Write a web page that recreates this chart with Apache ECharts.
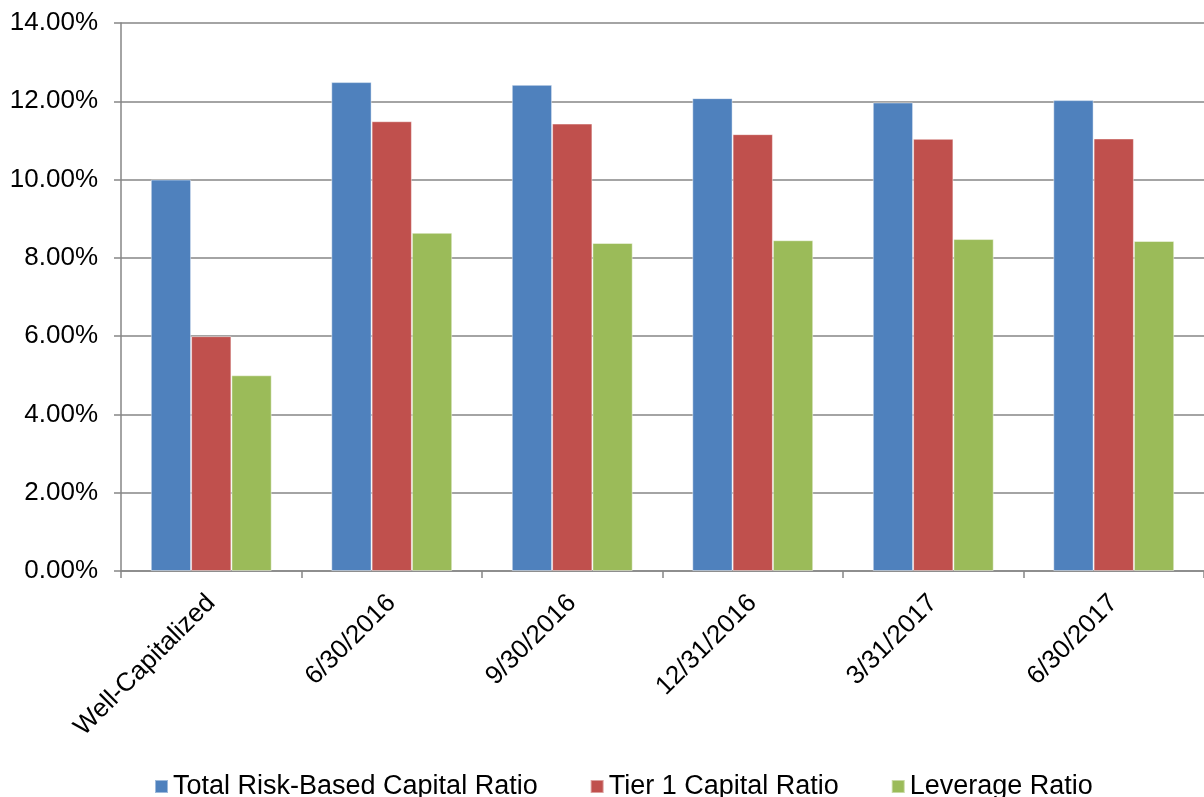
<!DOCTYPE html>
<html>
<head>
<meta charset="utf-8">
<script src="https://cdn.jsdelivr.net/npm/echarts@6/dist/echarts.min.js"></script>
<style>
  html, body { margin: 0; padding: 0; background: #fff; }
  #chart { width: 1204px; height: 797px; }
</style>
</head>
<body>
<div id="chart"></div>
<script>
var categories = ['Well-Capitalized', '6/30/2016', '9/30/2016', '12/31/2016', '3/31/2017', '6/30/2017'];
var totalRiskBased = [10.00, 12.49, 12.42, 12.08, 11.97, 12.03];
var tier1 = [6.00, 11.49, 11.43, 11.16, 11.04, 11.05];
var leverage = [5.00, 8.64, 8.38, 8.45, 8.48, 8.43];
var seriesNames = ['Total Risk-Based Capital Ratio', 'Tier 1 Capital Ratio', 'Leverage Ratio'];
var colors = ['#4F81BD', '#C0504D', '#9BBB59'];

var chart = echarts.init(document.getElementById('chart'));
var fontFam = 'Liberation Sans, Arial, sans-serif';

function makeSeries(name, data, color) {
  return {
    name: name,
    type: 'bar',
    data: data,
    barGap: '0%',
    barCategoryGap: '33%',
    animation: false,
    itemStyle: { color: color, borderColor: 'rgba(255,255,255,0.45)', borderWidth: 1 }
  };
}

var option = {
  animation: false,
  backgroundColor: '#fff',
  color: colors,
  grid: { left: 121, top: 23, right: -6, bottom: 226 },
  legend: {
    left: 149,
    top: 768,
    itemWidth: 13,
    itemHeight: 13,
    itemGap: 52,
    icon: 'rect',
    textStyle: { fontFamily: fontFam, fontSize: 27, color: '#000' },
    data: seriesNames
  },
  xAxis: {
    type: 'category',
    data: categories,
    axisLine: { lineStyle: { color: '#868686', width: 1.5 } },
    axisTick: { show: true, alignWithLabel: false, length: 7, lineStyle: { color: '#868686', width: 1.5 } },
    axisLabel: { rotate: 45, fontFamily: fontFam, fontSize: 26, color: '#000', margin: 28, interval: 0 }
  },
  yAxis: {
    type: 'value',
    min: 0,
    max: 14,
    interval: 2,
    axisLine: { show: true, lineStyle: { color: '#868686', width: 1.5 } },
    axisTick: { show: true, length: 7, lineStyle: { color: '#868686', width: 1.5 } },
    splitLine: { lineStyle: { color: '#868686', width: 1.5 } },
    axisLabel: {
      fontFamily: fontFam, fontSize: 26, color: '#000', margin: 23,
      formatter: function (v) { return v.toFixed(2) + '%'; }
    }
  },
  series: [
    makeSeries(seriesNames[0], totalRiskBased, colors[0]),
    makeSeries(seriesNames[1], tier1, colors[1]),
    makeSeries(seriesNames[2], leverage, colors[2])
  ]
};
chart.setOption(option);
</script>
</body>
</html>
